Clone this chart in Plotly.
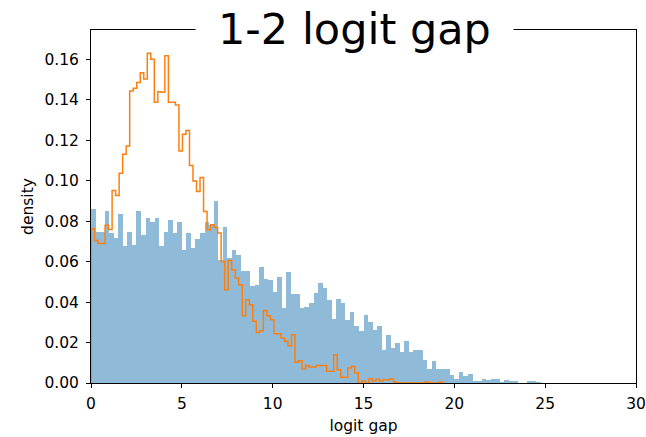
import plotly.graph_objects as go

# ---- data ----
blue_bin_width = 0.25
blue_density = [
    0.086, 0.0746, 0.0746, 0.085, 0.074, 0.0716, 0.0835, 0.0675, 0.0746, 0.0683,
    0.085, 0.0733, 0.0818, 0.0796, 0.0818, 0.0675, 0.0746, 0.0806, 0.074, 0.0795,
    0.0658, 0.074, 0.0667, 0.0711, 0.0741, 0.0795, 0.0779, 0.0898, 0.0606, 0.077,
    0.062, 0.0658, 0.0634, 0.0555, 0.0555, 0.048, 0.0485, 0.0572, 0.0514, 0.0508,
    0.0448, 0.0526, 0.037, 0.055, 0.0441, 0.0441, 0.037, 0.0375, 0.0395, 0.0447,
    0.0494, 0.047, 0.041, 0.0315, 0.0415, 0.0395, 0.0313, 0.035, 0.028, 0.0258,
    0.0336, 0.03, 0.0263, 0.028, 0.0165, 0.0239, 0.0173, 0.0198, 0.0151, 0.0206,
    0.0151, 0.0165, 0.0165, 0.0115, 0.0069, 0.011, 0.0069, 0.0069, 0.0069, 0.004,
    0.002, 0.0053, 0.0036, 0.0046, 0.0005, 0.0005, 0.002, 0.0013, 0.002, 0.002,
    0.0003, 0.0013, 0.0005, 0.0005, 0.0, 0.0, 0.0005, 0.0005, 0.0003,
]

orange_bin_width = 0.1936
orange_density = [
    0.0762, 0.0704, 0.069, 0.069, 0.078, 0.0759, 0.0951, 0.0927, 0.1037, 0.1131,
    0.1172, 0.1444, 0.1457, 0.1485, 0.1534, 0.1503, 0.163, 0.16, 0.1388, 0.144,
    0.1437, 0.1618, 0.1388, 0.1388, 0.1374, 0.1147, 0.123, 0.1248, 0.1075, 0.0999,
    0.0947, 0.1016, 0.0848, 0.0757, 0.0782, 0.0769, 0.0741, 0.0601, 0.0461, 0.0606,
    0.056, 0.0519, 0.0486, 0.0333, 0.0412, 0.0387, 0.0305, 0.025, 0.0258, 0.0359,
    0.0333, 0.0313, 0.0244, 0.0244, 0.0222, 0.0206, 0.0184, 0.0239, 0.0102, 0.011,
    0.0069, 0.0086, 0.0079, 0.0079, 0.0086, 0.0086, 0.0086, 0.0058, 0.0058, 0.014,
    0.0066, 0.0028, 0.0028, 0.0074, 0.0082, 0.005, 0.0, 0.001, 0.0, 0.002,
    0.001, 0.002, 0.001, 0.0016, 0.0016, 0.002, 0.0005, 0.0, 0.0, 0.0,
    0.0, 0.0, 0.0, 0.0, 0.0, 0.0005, 0.0, 0.0, 0.0, 0.0005,
]

x_ticks = [0, 5, 10, 15, 20, 25, 30]
y_ticks = [0.00, 0.02, 0.04, 0.06, 0.08, 0.10, 0.12, 0.14, 0.16]
title_text = "1-2 logit gap"
x_label = "logit gap"
y_label = "density"

# ---- derived ----
blue_centers = [(i + 0.5) * blue_bin_width for i in range(len(blue_density))]
o_edges = [i * orange_bin_width for i in range(len(orange_density) + 1)]
o_x = [o_edges[0]] + o_edges
o_y = [0] + orange_density + [0]

fig = go.Figure()
fig.add_trace(go.Bar(
    x=blue_centers, y=blue_density, width=blue_bin_width,
    marker=dict(color="rgb(143,187,217)", line=dict(width=0)),
    showlegend=False, hoverinfo="skip",
))
fig.add_trace(go.Scatter(
    x=o_x, y=o_y, mode="lines", line=dict(shape="hv", color="#ff7f0e", width=1.5),
    showlegend=False, hoverinfo="skip",
))

font_family = "DejaVu Sans"
fig.update_layout(
    width=646, height=437,
    margin=dict(l=91, r=10, t=30, b=54, autoexpand=False),
    paper_bgcolor="white", plot_bgcolor="white",
    bargap=0,
    font=dict(family=font_family, size=15.5, color="black"),
)
fig.update_xaxes(
    range=[0, 30], tickvals=x_ticks, ticktext=[str(v) for v in x_ticks],
    showline=True, linecolor="black", linewidth=1, mirror=True,
    ticks="outside", ticklen=4, tickcolor="black", showgrid=False, zeroline=False,
    title=dict(text=x_label, standoff=8, font=dict(size=15.5)),
    tickfont=dict(size=15.5), automargin=False, ticklabelstandoff=2,
)
fig.update_yaxes(
    range=[0, 0.1745], tickvals=y_ticks, ticktext=[f"{v:.2f}" for v in y_ticks],
    showline=True, linecolor="black", linewidth=1, mirror=True,
    ticks="outside", ticklen=4, tickcolor="black", showgrid=False, zeroline=False,
    title=dict(text=y_label, standoff=6, font=dict(size=15.5)),
    tickfont=dict(size=15.5), automargin=False, ticklabelstandoff=4,
)
fig.add_annotation(
    text=title_text, xref="paper", yref="paper", x=0.484, y=1.0, yshift=1,
    xanchor="center", yanchor="middle", showarrow=False,
    font=dict(family=font_family, size=43, color="black"),
    bgcolor="white", borderpad=22,
)

fig.write_html(
    "out.html",
    config={"displayModeBar": False},
    post_script="document.body.style.margin='0';document.body.style.overflow='hidden';",
)
